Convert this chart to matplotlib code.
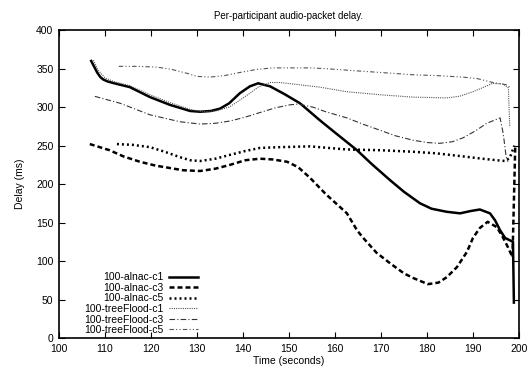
import matplotlib
matplotlib.use("Agg")
import matplotlib.pyplot as plt

plt.rcParams['font.family'] = ['Liberation Sans', 'DejaVu Sans']

# alnac runs
alnac_c1_t = [107, 107.7, 108.3, 109, 109.6, 110.5, 112, 115.4, 119.8, 124.1, 128.5, 130.7, 133,
              135, 137, 139.3, 141.5, 143.3, 145.9, 149, 152.4, 156.7, 160, 164.8, 168, 172,
              175, 178.5, 181, 184.3, 187.2, 189.5, 191.5, 193.7, 194.8, 195.9, 197, 198,
              198.7, 198.9]
alnac_c1_v = [360, 352, 345, 339, 336, 333.5, 331, 326, 313, 303, 295, 294, 295,
              298, 305, 318, 327, 331, 327, 317, 305, 283, 267, 244, 226, 205,
              190, 175, 168, 164, 162, 165, 167, 162, 153, 140, 130, 127,
              125, 46]

alnac_c3_t = [106.7, 111, 114, 117.6, 121, 124, 127, 130.7, 134, 137.2, 140.5, 143.7, 146.5,
              149.6, 152, 154.6, 158, 162.6, 164.8, 166, 169, 172, 175, 177, 180.2, 182.5,
              184.3, 186.5, 188.7, 190, 191.5, 193.2, 195.2, 196.5, 197.6, 198.6, 199.2]
alnac_c3_v = [252, 244, 236, 229, 224, 221, 218, 217, 220, 225, 231, 233, 232,
              229, 222, 208, 187, 162, 140, 131, 111, 97, 84, 78, 70, 72,
              79, 92, 112, 130, 143, 151, 144, 131, 118, 105, 250]

alnac_c5_t = [112.6, 116, 119.8, 123, 126.3, 128.5, 130.7, 134, 137.2, 140.5, 143.7, 148,
              154.6, 162.6, 170, 177, 182, 187.8, 192, 195.2, 197, 198, 199]
alnac_c5_v = [252, 251, 248, 242, 235, 231, 230, 233, 238, 243, 247, 248,
              249, 245, 244, 242, 240, 236, 233, 231, 230, 234, 250]

# treeFlood runs
tree_c1_t = [107.5, 108.5, 110, 112, 115.4, 119.8, 124.1, 128.5, 131, 134, 137, 139.3, 141.5,
             143.3, 145.9, 148, 152.4, 156.7, 162.6, 170, 177, 184.3, 187, 190, 192, 194.3,
             196.5, 197.7, 198]
tree_c1_v = [361, 348, 338, 333, 328, 316, 306, 297, 294, 295, 300, 309, 318,
             326, 332, 332, 329, 326, 320, 316, 313, 312, 314, 320, 325, 331,
             330, 325, 274]

tree_c3_t = [107.8, 113.3, 119.8, 126.3, 130.7, 134, 137.2, 140.5, 143.7, 147, 150.2, 152,
             155.2, 158, 162.6, 166, 169.8, 173, 177, 180, 182.8, 185.5, 187.8, 190.5, 193,
             195.9, 196.6, 197.2, 197.6]
tree_c3_v = [314, 305, 290, 281, 278, 279, 282, 287, 293, 299, 303, 304,
             300, 294, 286, 278, 270, 263, 257, 254, 253, 255, 260, 269, 279,
             286, 265, 236, 229]

tree_c5_t = [113, 117, 121.3, 124.5, 127.8, 130, 132.8, 136, 139.3, 143, 146.5, 150, 154.6,
             158, 162.6, 170, 177, 182, 187.8, 191, 194.3, 197.4, 198]
tree_c5_v = [353, 353, 352, 349, 344, 340, 339, 341, 345, 349, 351, 351, 351,
             350, 348, 345, 342, 341, 339, 337, 332, 329, 326]

fig = plt.figure(figsize=(5.29, 3.68), dpi=100)
ax = fig.add_axes([0.1115, 0.0815, 0.8695, 0.8365])

ax.plot(alnac_c1_t, alnac_c1_v, color='black', lw=1.8, ls='-', label='100-alnac-c1')
ax.plot(alnac_c3_t, alnac_c3_v, color='black', lw=1.8, ls=(0, (2, 1.2)), label='100-alnac-c3')
ax.plot(alnac_c5_t, alnac_c5_v, color='black', lw=1.8, ls=(0, (0.8, 1.2)), label='100-alnac-c5')
ax.plot(tree_c1_t, tree_c1_v, color='#555555', lw=0.8, ls=(0, (1, 1)), label='100-treeFlood-c1')
ax.plot(tree_c3_t, tree_c3_v, color='#333333', lw=0.8, ls=(0, (5, 2, 1, 2)), label='100-treeFlood-c3')
ax.plot(tree_c5_t, tree_c5_v, color='#555555', lw=0.8, ls=(0, (4, 2, 1, 2, 1, 2)), label='100-treeFlood-c5')

ax.set_xlim(100, 200)
ax.set_ylim(0, 400)
ax.set_xticks(range(100, 201, 10))
ax.set_yticks(range(0, 401, 50))
ax.tick_params(direction='in', top=True, right=True, length=4, width=0.8, labelsize=7.5, pad=4)
for s in ax.spines.values():
    s.set_linewidth(1.2)

ax.set_title('Per-participant audio-packet delay.', fontsize=7, pad=8)
ax.set_xlabel('Time (seconds)', fontsize=7.5, labelpad=2)
ax.set_ylabel('Delay (ms)', fontsize=7.5, labelpad=8)

# markerfirst=False puts the sample on the right and right-aligns the labels
ax.legend(loc='lower right', bbox_to_anchor=(0.318, -0.014), frameon=False, fontsize=7.5,
          markerfirst=False, labelspacing=0.05, handlelength=2.8, handletextpad=0.5,
          borderpad=0.2)

fig.savefig('out.png', dpi=100)
